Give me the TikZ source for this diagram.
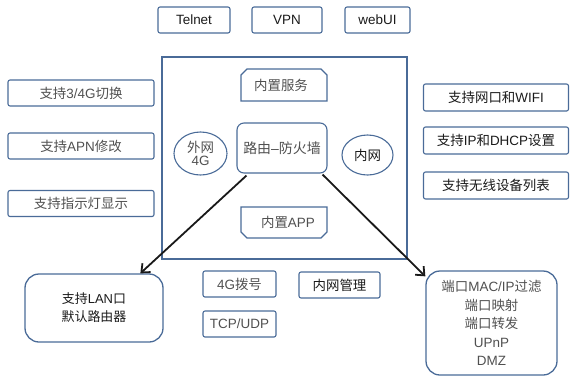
\documentclass[tikz,border=0pt]{standalone}
\usepackage{fontspec}
\setmainfont{Liberation Sans}
\newfontfamily\cjkfont{Noto Sans CJK SC}
\newcommand\zhtxt[1]{{\cjkfont #1}}
\usetikzlibrary{arrows.meta,shapes.misc,shapes.geometric}
\definecolor{bd}{HTML}{4A6B98}
\definecolor{tg}{HTML}{505050}
\definecolor{tk}{HTML}{1A1A1A}
\begin{document}
\begin{tikzpicture}[x=1bp,y=-1bp,
  box/.style={draw=bd,line width=1.1bp,rounded corners=2bp,minimum height=26bp,inner sep=0pt,font=\fontsize{13.5}{15}\selectfont},
  gtxt/.style={text=tg},
  ktxt/.style={text=tk},
  chamf/.style={draw=bd,line width=1.1bp,chamfered rectangle,chamfered rectangle xsep=3bp,chamfered rectangle ysep=3bp,inner sep=0pt,font=\fontsize{13.5}{15}\selectfont,text=tg},
  oval/.style={draw=bd,line width=1.1bp,ellipse,inner sep=0pt,font=\fontsize{13.5}{14}\selectfont,align=center},
  bigbox/.style={draw=bd,line width=1.3bp,rounded corners=14bp,inner sep=0pt,align=center},
  arr/.style={draw=black!90,line width=1.8bp,-{Straight Barb[length=7bp,width=12bp,line width=1.8bp]}}
]
\useasboundingbox (0,0) rectangle (570,377);
% top
\node[box,ktxt,minimum width=72bp] (telnet) at (194,20) {Telnet};
\node[box,ktxt,minimum width=70bp] (vpn) at (287,20) {VPN};
\node[box,ktxt,minimum width=65bp] (webui) at (377.5,20) {webUI};
% left
\node[box,gtxt,minimum width=146bp] (l1) at (81,93) {\zhtxt{支持}3/4G\zhtxt{切换}};
\node[box,gtxt,minimum width=146bp] (l2) at (81,146) {\zhtxt{支持}APN\zhtxt{修改}};
\node[box,gtxt,minimum width=146bp] (l3) at (81,203.5) {\zhtxt{支持指示灯显示}};
% right
\node[box,ktxt,minimum width=145bp,minimum height=27bp] (r1) at (496,97.5) {\zhtxt{支持网口和}WIFI};
\node[box,ktxt,minimum width=145bp,minimum height=27bp] (r2) at (496,140.5) {\zhtxt{支持}IP\zhtxt{和}DHCP\zhtxt{设置}};
\node[box,ktxt,minimum width=145bp,minimum height=27bp] (r3) at (496,185.5) {\zhtxt{支持无线设备列表}};
% main frame
\node[draw=bd,line width=1.1bp,minimum width=245bp,minimum height=202bp,inner sep=0pt] (frame) at (284.5,158) {};
\node[chamf,chamfered rectangle corners={north west,north east},minimum width=86bp,minimum height=32bp] (svc) at (284,85) {\hspace*{-6bp}\zhtxt{内置服务}};
\node[draw=bd,line width=1.1bp,rounded corners=7bp,minimum width=90bp,minimum height=50bp,inner sep=0pt,font=\fontsize{14}{15}\selectfont,text=tg] (rf) at (282,148) {\zhtxt{路由}--\zhtxt{防火墙}};
\node[chamf,chamfered rectangle corners={south west,south east},minimum width=86bp,minimum height=31bp] (app) at (284,222.5) {\hspace*{8bp}\zhtxt{内置}APP};
\node[oval,text=tg,minimum width=53bp,minimum height=43bp] (wan) at (200.5,153.5) {\zhtxt{外网}\\[-1bp]4G};
\node[oval,ktxt,minimum width=51bp,minimum height=40bp] (lan2) at (367.5,155) {\zhtxt{内网}};
% bottom small
\node[box,gtxt,minimum width=73bp] (dial) at (239.5,284) {4G\zhtxt{拨号}};
\node[box,gtxt,minimum width=73bp] (tcp) at (239.5,324) {TCP/UDP};
\node[box,ktxt,minimum width=81bp] (mgmt) at (339.5,285) {\zhtxt{内网管理}};
% bottom big boxes
\node[bigbox,minimum width=138bp,minimum height=68bp,font=\fontsize{13}{18}\selectfont,text=tk] (lanbox) at (94,308) {\zhtxt{支持}LAN\zhtxt{口}\\\zhtxt{默认路由器}};
\node[bigbox,minimum width=131bp,minimum height=104bp,font=\fontsize{13.5}{18.5}\selectfont,text=tg] (dmz) at (491.5,323) {\zhtxt{端口}MAC/IP\zhtxt{过滤}\\\zhtxt{端口映射}\\\zhtxt{端口转发}\\UPnP\\DMZ};
% arrows
\draw[arr] ([xshift=10bp,yshift=-2bp]rf.south west) -- ([xshift=116bp]lanbox.north west);
\draw[arr] ([xshift=-5bp,yshift=-1bp]rf.south east) -- ([yshift=-6bp]dmz.north west);
\end{tikzpicture}
\end{document}
